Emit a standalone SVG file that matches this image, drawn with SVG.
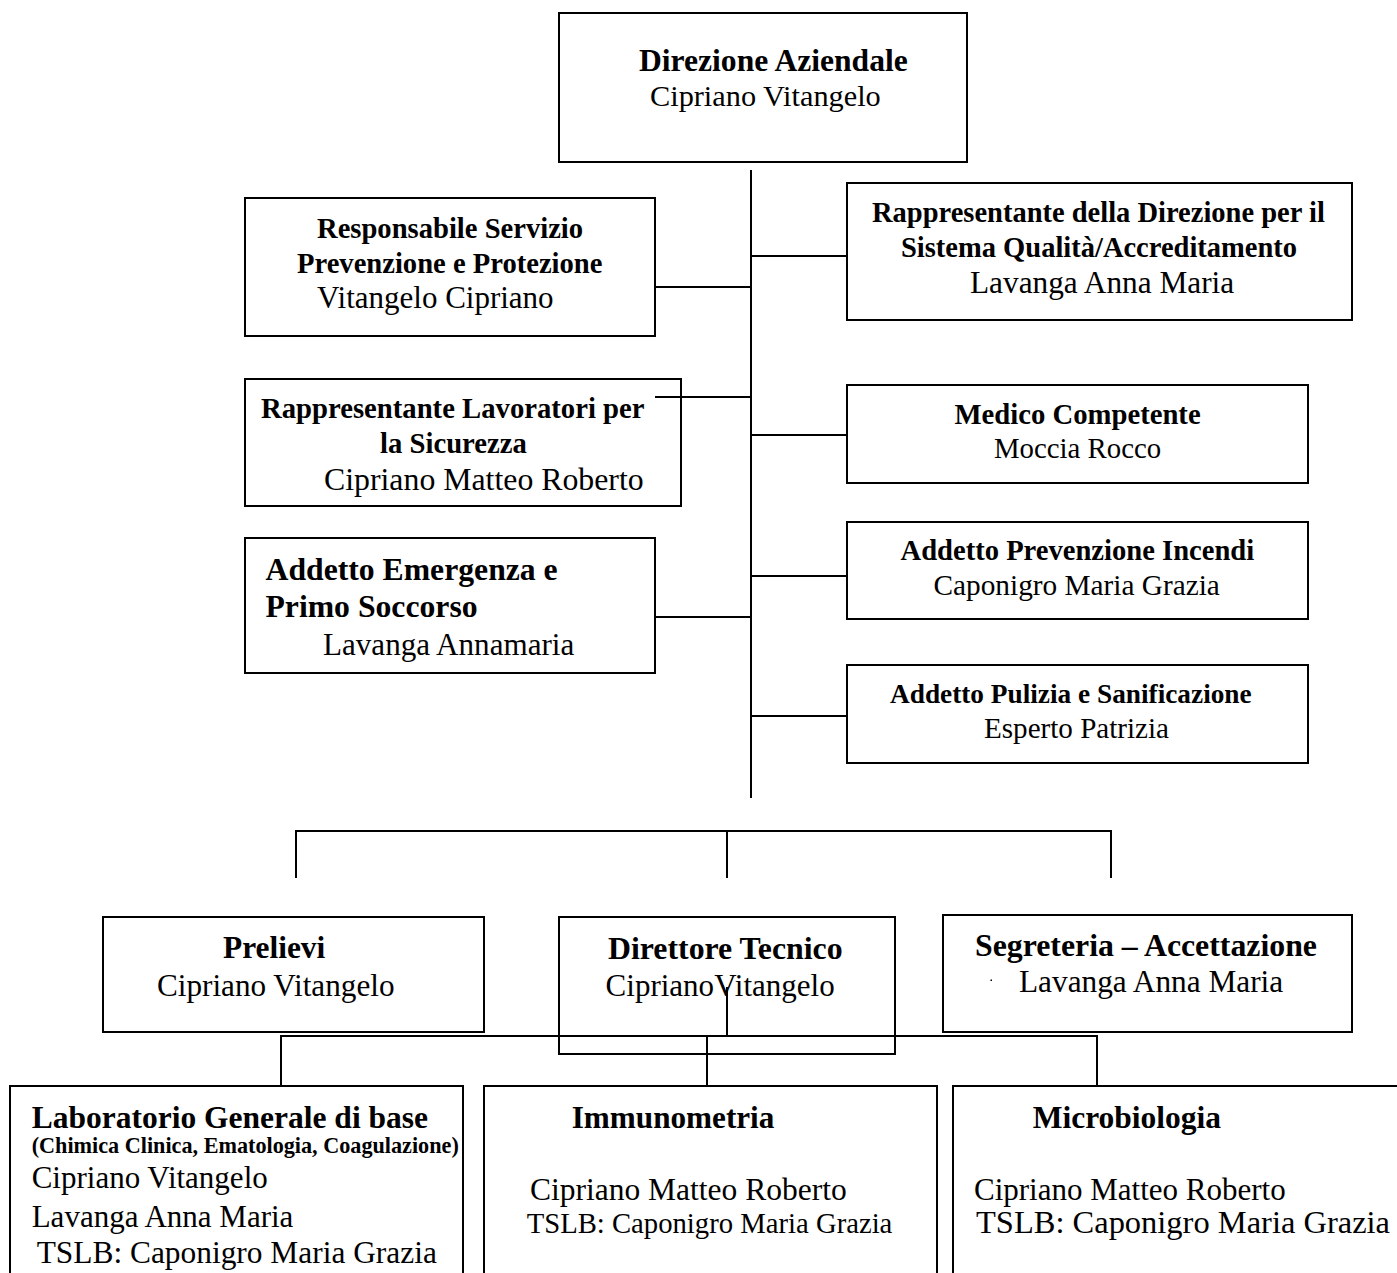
<svg xmlns="http://www.w3.org/2000/svg" width="1397" height="1273" viewBox="0 0 1397 1273">
<style>
  .box{fill:#fff;stroke:#000;stroke-width:2}
  .ln{stroke:#000;stroke-width:2;fill:none}
  text{font-family:"Liberation Serif","Times New Roman",serif;fill:#000}
  .b{font-weight:bold}
</style>
<rect width="1397" height="1273" fill="#fff"/>
<g id="connectors">
  <line class="ln" x1="751" y1="170" x2="751" y2="798"/>
  <line class="ln" x1="751" y1="256" x2="847" y2="256"/>
  <line class="ln" x1="655" y1="287" x2="751" y2="287"/>
  <line class="ln" x1="751" y1="435" x2="847" y2="435"/>
  <line class="ln" x1="751" y1="576" x2="847" y2="576"/>
  <line class="ln" x1="655" y1="617" x2="751" y2="617"/>
  <line class="ln" x1="751" y1="716" x2="847" y2="716"/>
  <polyline class="ln" points="296,878 296,831 1111,831 1111,878"/>
  <line class="ln" x1="727" y1="831" x2="727" y2="878"/>
</g>
<g id="n-direzione">
  <rect class="box" x="559" y="13" width="408" height="149"/>
  <text class="b" x="639" y="71" font-size="31.6">Direzione Aziendale</text>
  <text x="650" y="106" font-size="30.3">Cipriano Vitangelo</text>
</g>
<g id="n-rspp">
  <rect class="box" x="245" y="198" width="410" height="138"/>
  <text class="b" x="317" y="238" font-size="28.6">Responsabile Servizio</text>
  <text class="b" x="297" y="273" font-size="28.6">Prevenzione e Protezione</text>
  <text x="317" y="308" font-size="31">Vitangelo Cipriano</text>
</g>
<g id="n-rappdir">
  <rect class="box" x="847" y="183" width="505" height="137"/>
  <text class="b" x="872" y="222" font-size="28.5">Rappresentante della Direzione per il</text>
  <text class="b" x="901" y="257" font-size="28.5">Sistema Qualità/Accreditamento</text>
  <text x="970" y="293" font-size="31.3">Lavanga Anna Maria</text>
</g>
<g id="n-rls">
  <rect class="box" x="245" y="379" width="436" height="127"/>
  <text class="b" x="261" y="418" font-size="28.7">Rappresentante Lavoratori per</text>
  <text class="b" x="380" y="453" font-size="28.7">la Sicurezza</text>
  <text x="324" y="490" font-size="31.8">Cipriano Matteo Roberto</text>
</g>
<line class="ln" x1="655" y1="397" x2="751" y2="397"/>
<g id="n-medico">
  <rect class="box" x="847" y="385" width="461" height="98"/>
  <text class="b" x="954.5" y="424" font-size="28.7">Medico Competente</text>
  <text x="994" y="458" font-size="28.8">Moccia Rocco</text>
</g>
<g id="n-emergenza">
  <rect class="box" x="245" y="538" width="410" height="135"/>
  <text class="b" x="265.5" y="580" font-size="31.7">Addetto Emergenza e</text>
  <text class="b" x="265.5" y="617" font-size="31.7">Primo Soccorso</text>
  <text x="323" y="655" font-size="31.1">Lavanga Annamaria</text>
</g>
<g id="n-incendi">
  <rect class="box" x="847" y="522" width="461" height="97"/>
  <text class="b" x="900.5" y="560" font-size="28.6">Addetto Prevenzione Incendi</text>
  <text x="933.5" y="595" font-size="29.3">Caponigro Maria Grazia</text>
</g>
<g id="n-pulizia">
  <rect class="box" x="847" y="665" width="461" height="98"/>
  <text class="b" x="890" y="703" font-size="27.3">Addetto Pulizia e Sanificazione</text>
  <text x="984" y="738" font-size="29.1">Esperto Patrizia</text>
</g>
<g id="n-prelievi">
  <rect class="box" x="103" y="917" width="381" height="115"/>
  <text class="b" x="223" y="958" font-size="31.4">Prelievi</text>
  <text x="157" y="996" font-size="31.2">Cipriano Vitangelo</text>
</g>
<g id="n-direttore">
  <rect class="box" x="559" y="917" width="336" height="137"/>
  <text class="b" x="608" y="959" font-size="31.8">Direttore Tecnico</text>
  <text x="605.6" y="996" font-size="31" word-spacing="-7">Cipriano Vitangelo</text>
</g>
<g id="n-segreteria">
  <rect class="box" x="943" y="915" width="409" height="117"/>
  <text class="b" x="975" y="956" font-size="31.8">Segreteria – Accettazione</text>
  <rect x="990.5" y="979.5" width="1.5" height="1.5" fill="#000"/>
  <text x="1019" y="992" font-size="31.3">Lavanga Anna Maria</text>
</g>
<g id="connectors-lower">
  <line class="ln" x1="727" y1="987" x2="727" y2="1036"/>
  <polyline class="ln" points="281,1086 281,1036 1097,1036 1097,1086"/>
  <line class="ln" x1="707" y1="1036" x2="707" y2="1086"/>
</g>
<g id="n-lab">
  <rect class="box" x="10" y="1086" width="453" height="230"/>
  <text class="b" x="31.7" y="1128" font-size="31.5">Laboratorio Generale di base</text>
  <text class="b" x="31.7" y="1153" font-size="22.2">(Chimica Clinica, Ematologia, Coagulazione)</text>
  <text x="31.7" y="1188" font-size="31">Cipriano Vitangelo</text>
  <text x="31.7" y="1227" font-size="31">Lavanga Anna Maria</text>
  <text x="36.7" y="1263" font-size="31.4">TSLB: Caponigro Maria Grazia</text>
</g>
<g id="n-immuno">
  <rect class="box" x="484" y="1086" width="453" height="230"/>
  <text class="b" x="571.7" y="1128" font-size="31.2">Immunometria</text>
  <text x="530" y="1200" font-size="31.5">Cipriano Matteo Roberto</text>
  <text x="526.7" y="1233" font-size="28.7">TSLB: Caponigro Maria Grazia</text>
</g>
<g id="n-micro">
  <rect class="box" x="953" y="1086" width="460" height="230"/>
  <text class="b" x="1032.7" y="1128" font-size="31.5">Microbiologia</text>
  <text x="974" y="1200" font-size="31">Cipriano Matteo Roberto</text>
  <text x="976" y="1233" font-size="30.5" textLength="414" lengthAdjust="spacingAndGlyphs">TSLB: Caponigro Maria Grazia</text>
</g>
</svg>
